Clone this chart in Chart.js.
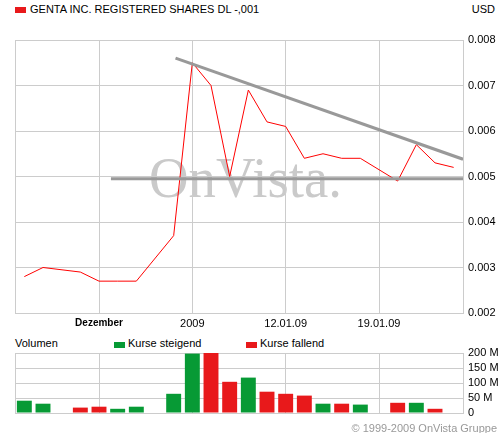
<!DOCTYPE html>
<html>
<head>
<meta charset="utf-8">
<script src="https://cdn.jsdelivr.net/npm/chart.js@4.4.1/dist/chart.umd.min.js"></script>
<style>
  body { margin: 0; background: #fff; font-family: "Liberation Sans", Arial, sans-serif; font-size: 11px; color: #000; }
  #wrap { position: relative; width: 501px; height: 433px; overflow: hidden; }
  .txt { position: absolute; white-space: nowrap; line-height: 13px; }
  .box { position: absolute; width: 11px; height: 6px; }
  canvas { position: absolute; left: 0; }
</style>
</head>
<body>
<div id="wrap">
  <div class="box" style="left:15px;top:7px;background:#e8191b"></div>
  <div class="txt" style="left:30px;top:3px">GENTA INC. REGISTERED SHARES DL -,001</div>
  <div class="txt" style="right:6px;top:3px">USD</div>

  <canvas id="priceChart" width="501" height="330" style="top:0"></canvas>

  <div class="txt" style="left:15px;top:337px">Volumen</div>
  <div class="box" style="left:114px;top:342px;background:#079a35"></div>
  <div class="txt" style="left:128px;top:337px">Kurse steigend</div>
  <div class="box" style="left:246px;top:342px;background:#e8191b"></div>
  <div class="txt" style="left:260px;top:337px">Kurse fallend</div>

  <canvas id="volChart" width="501" height="85" style="top:340px"></canvas>

  <div class="txt" style="right:4px;top:421.5px;color:#999">© 1999-2009 OnVista Gruppe</div>
</div>

<script>
// trading days shown on the chart (holidays keep their slot, without data)
const days = ['23.12.08', '24.12.08', '25.12.08', '26.12.08', '29.12.08', '30.12.08', '31.12.08', '01.01.09',
  '02.01.09', '05.01.09', '06.01.09', '07.01.09', '08.01.09', '09.01.09', '12.01.09', '13.01.09',
  '14.01.09', '15.01.09', '16.01.09', '19.01.09', '20.01.09', '21.01.09', '22.01.09', '23.01.09'];

// closing prices in USD
const prices = [0.0028, 0.0030, null, 0.0029, 0.0027, 0.0027, 0.0027, null,
  0.0037, 0.0075, 0.0070, 0.0050, 0.0069, 0.0062, 0.0061, 0.0054,
  0.0055, 0.0054, 0.0054, null, 0.0049, 0.0057, 0.0053, 0.0052];

// volume in millions, and whether the price went up that day
const volumes = [41, 31, null, 18, 21, 14, 21, null,
  64, 198, 210, 104, 118, 71, 64, 58,
  31, 31, 28, null, 34, 34, 14, null];
const rising = [true, true, null, false, false, true, true, null,
  true, true, false, false, true, false, false, false,
  true, false, true, null, false, true, false, null];

// trend lines drawn on the chart (x = day slot)
const resistance = [{ x: 8.1, y: 0.0076 }, { x: 23.5, y: 0.00538 }];
const support = [{ x: 4.64, y: 0.00495 }, { x: 23.5, y: 0.00495 }];

// x axis tick labels
const tickPos = [4, 9, 14, 19];
const tickLabels = ['Dezember', '2009', '12.01.09', '19.01.09'];

const priceTicks = [0.002, 0.003, 0.004, 0.005, 0.006, 0.007, 0.008];
const volTicks = [0, 50, 100, 150, 200];

const FONT = '"Liberation Sans", Arial, sans-serif';
const GRID = '#cccccc';
const GREEN = '#079a35';
const RED = '#e8191b';

Chart.defaults.font.family = FONT;
Chart.defaults.font.size = 11;
Chart.defaults.color = '#000';

const xMin = -0.5;
const xMax = days.length - 0.5;

function xAxis(showLabels) {
  return {
    type: 'linear',
    min: xMin,
    max: xMax,
    offset: false,
    afterBuildTicks: s => {
      s.ticks = [xMin, ...tickPos, xMax].map(v => ({ value: v }));
    },
    afterFit: s => { s.height = showLabels ? 17 : 0; },
    grid: { color: GRID, drawTicks: false, offset: false },
    border: { color: GRID },
    ticks: {
      display: showLabels,
      padding: 4,
      maxRotation: 0,
      autoSkip: false,
      font: c => (c.tick && c.tick.value === tickPos[0]) ? { size: 10, weight: 'bold' } : { size: 11 },
      callback: v => {
        const i = tickPos.indexOf(v);
        return i >= 0 ? tickLabels[i] : '';
      }
    }
  };
}

// light "OnVista." stamp behind the grid
const watermark = {
  id: 'watermark',
  beforeDraw(chart) {
    const { ctx, chartArea } = chart;
    ctx.save();
    ctx.font = '58px "Liberation Serif", "DejaVu Serif", serif';
    ctx.fillStyle = '#cacaca';
    ctx.textBaseline = 'alphabetic';
    ctx.fillText('OnVista.', chartArea.left + 134, chartArea.top + 157, 193);
    ctx.restore();
  }
};

const pricePoints = prices.map((p, i) => ({ x: i, y: p })).filter(d => d.y !== null);

new Chart(document.getElementById('priceChart'), {
  type: 'line',
  data: {
    datasets: [
      { data: resistance, borderColor: '#999999', borderWidth: 3, pointRadius: 0 },
      { data: support, borderColor: '#999999', borderWidth: 3, pointRadius: 0 },
      { data: pricePoints, borderColor: '#ff0000', borderWidth: 1, pointRadius: 0, tension: 0 }
    ]
  },
  options: {
    responsive: false,
    animation: false,
    events: [],
    layout: { padding: { left: 15, top: 40, right: 0, bottom: 0 } },
    plugins: { legend: { display: false }, tooltip: { enabled: false } },
    scales: {
      x: xAxis(true),
      y: {
        position: 'right',
        min: 0.002,
        max: 0.008,
        afterBuildTicks: s => { s.ticks = priceTicks.map(v => ({ value: v })); },
        afterFit: s => { s.width = 38; },
        grid: { color: GRID, drawTicks: false },
        border: { color: GRID },
        ticks: { padding: 5, autoSkip: false, callback: v => v.toFixed(3) }
      }
    }
  },
  plugins: [watermark]
});

const volPoints = [];
const volColors = [];
volumes.forEach((v, i) => {
  if (v === null) return;
  volPoints.push({ x: i, y: v });
  volColors.push(rising[i] ? GREEN : RED);
});

new Chart(document.getElementById('volChart'), {
  type: 'bar',
  data: {
    datasets: [{
      data: volPoints,
      backgroundColor: volColors,
      borderWidth: 0,
      barPercentage: 0.8,
      categoryPercentage: 1.0
    }]
  },
  options: {
    responsive: false,
    animation: false,
    events: [],
    layout: { padding: { left: 15, top: 13, right: 0, bottom: 12 } },
    plugins: { legend: { display: false }, tooltip: { enabled: false } },
    scales: {
      x: xAxis(false),
      y: {
        position: 'right',
        min: 0,
        max: 200,
        afterBuildTicks: s => { s.ticks = volTicks.map(v => ({ value: v })); },
        afterFit: s => { s.width = 38; },
        grid: { color: GRID, drawTicks: false },
        border: { color: GRID },
        ticks: { padding: 5, autoSkip: false, callback: v => v === 0 ? '0' : v + ' M' }
      }
    }
  }
});
</script>
</body>
</html>
